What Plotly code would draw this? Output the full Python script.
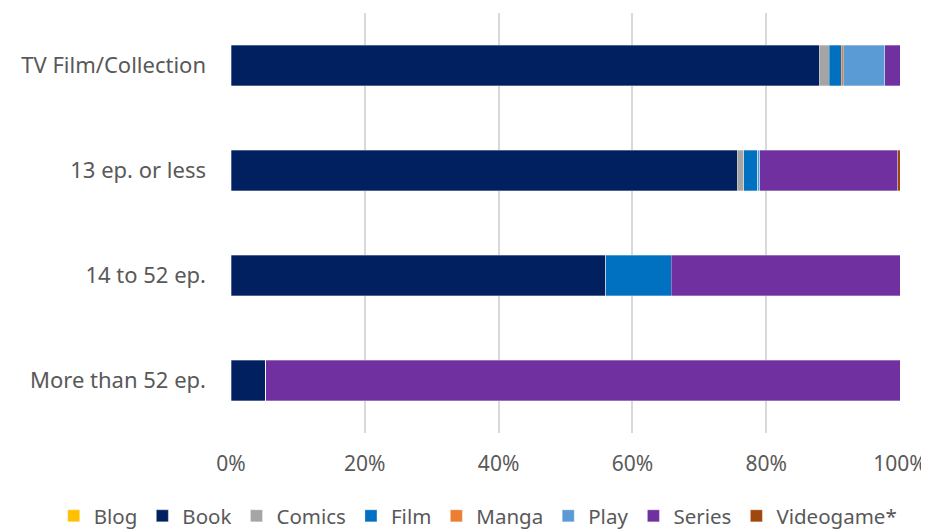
import plotly.graph_objects as go

# Share of each source type per format (percent)
formats = ["TV Film/Collection", "13 ep. or less", "14 to 52 ep.", "More than 52 ep."]
blog = [0, 0, 0, 0]
book = [87.9, 75.7, 56.0, 5.2]
comics = [1.5, 0.95, 0, 0]
film = [1.8, 2.1, 9.8, 0]
manga = [0.3, 0, 0, 0]
play = [6.2, 0.25, 0, 0]
series = [2.3, 20.7, 34.2, 94.8]
videogame = [0, 0.3, 0, 0]

series_list = [
    ("Blog", blog, "#FFC000"),
    ("Book", book, "#002060"),
    ("Comics", comics, "#A5A5A5"),
    ("Film", film, "#0070C0"),
    ("Manga", manga, "#ED7D31"),
    ("Play", play, "#5B9BD5"),
    ("Series", series, "#7030A0"),
    ("Videogame*", videogame, "#9E480E"),
]

fig = go.Figure()
for name, vals, color in series_list:
    fig.add_trace(go.Bar(
        name=name,
        y=formats,
        x=vals,
        orientation="h",
        width=0.39,
        marker=dict(color=color, line=dict(color="rgba(255,255,255,0.6)", width=0.5)),
        hovertemplate="%{y}<br>" + name + ": %{x:.1f}%<extra></extra>",
    ))

# page body has an 8px margin, so the figure is a bit smaller than the window
fig.update_layout(
    barmode="stack",
    width=921,
    height=521,
    margin=dict(l=223, r=29, t=5, b=96, autoexpand=False),
    plot_bgcolor="white",
    paper_bgcolor="white",
    font=dict(family="Noto Sans", size=22, color="#595959"),
    # legend anchored left of the plot area so it may use the full width on one row
    legend=dict(
        orientation="h",
        x=-0.265,
        xanchor="left",
        y=-0.15,
        yanchor="top",
        font=dict(size=20.5, color="#595959"),
        itemwidth=30,
        traceorder="normal",
    ),
)
fig.update_xaxes(
    range=[0, 100],
    tickvals=[0, 20, 40, 60, 80, 100],
    ticktext=["0%", "20%", "40%", "60%", "80%", "100%"],
    tickfont=dict(size=21),
    showgrid=True,
    gridcolor="#D9D9D9",
    gridwidth=2,
    zeroline=False,
    showline=False,
    automargin=False,
    ticklabelstandoff=16,
)
fig.update_yaxes(
    categoryorder="array",
    categoryarray=formats[::-1],
    showgrid=False,
    automargin=False,
    ticklabelstandoff=24,
)

fig.write_html("out.html")
